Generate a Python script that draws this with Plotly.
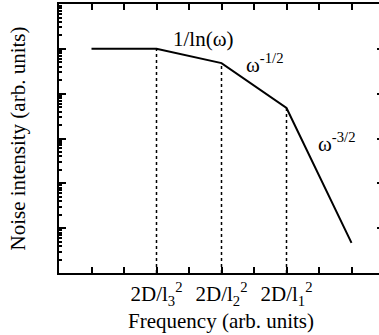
import plotly.graph_objects as go

# data
freq = [1, 2, 3, 4, 5]
intensity = [1.0e5, 1.0e5, 4.8e4, 4.8e3, 4.7]
crossover_idx = [1, 2, 3]
tick_vals = [1, 2, 3, 4, 5]
tick_text = ["", "2D/l<sub>3</sub><sup>2</sup>", "2D/l<sub>2</sub><sup>2</sup>",
             "2D/l<sub>1</sub><sup>2</sup>", ""]
labels = ["1/ln(ω)", "ω<sup>-1/2</sup>", "ω<sup>-3/2</sup>"]
label_x = [2.71, 3.67, 4.78]
label_y = [5.22, 4.67, 2.92]
x_title = "Frequency (arb. units)"
y_title = "Noise intensity (arb. units)"

FONT = "Liberation Serif"

fig = go.Figure()

# dotted drop lines
dx, dy = [], []
for i in crossover_idx:
    dx += [freq[i], freq[i], None]
    dy += [1, intensity[i], None]
fig.add_trace(go.Scatter(x=dx, y=dy, mode="lines",
                         line=dict(color="black", width=1.5, dash="dot"),
                         hoverinfo="skip", showlegend=False))

fig.add_trace(go.Scatter(x=freq, y=intensity, mode="lines",
                         line=dict(color="black", width=2),
                         showlegend=False))

# invisible trace for right axis ticks
fig.add_trace(go.Scatter(x=[freq[0]], y=[intensity[0]], yaxis="y2",
                         mode="markers", marker=dict(opacity=0),
                         hoverinfo="skip", showlegend=False))

for t, x, y in zip(labels, label_x, label_y):
    fig.add_annotation(x=x, y=y, text=t, showarrow=False,
                       font=dict(family=FONT, size=21, color="black"))

# x-axis title as annotation (placed closer to tick labels)
fig.add_annotation(x=0.505, xref="paper",
                   y=-0.178, yref="paper", text=x_title, showarrow=False,
                   xanchor="center", yanchor="middle",
                   font=dict(family=FONT, size=21, color="black"))

xr = [0.5, 0.5 + (379 - 59) / 65]

fig.update_layout(
    width=379, height=335,
    margin=dict(l=59, r=0, t=4, b=62),
    paper_bgcolor="white", plot_bgcolor="white",
    font=dict(family=FONT, size=21, color="black"),
    xaxis=dict(
        range=xr, showgrid=False, zeroline=False,
        showline=True, linecolor="black", linewidth=2, mirror="allticks",
        ticks="inside", ticklen=6, tickwidth=2, tickcolor="black",
        tickmode="array", tickvals=tick_vals, ticktext=tick_text,
        tickfont=dict(family=FONT, size=21),
        ticklabelstandoff=1,
        minor=dict(tickmode="linear", tick0=0.5, dtick=1, ticks="inside",
                   ticklen=3, tickwidth=2, tickcolor="black", showgrid=False),
    ),
    yaxis=dict(
        type="log", range=[0, 6], showgrid=False, zeroline=False,
        showline=True, linecolor="black", linewidth=2, mirror=False,
        ticks="inside", ticklen=7, tickwidth=2, tickcolor="black",
        dtick=1, showticklabels=False,
        minor=dict(ticks="inside", ticklen=3, tickwidth=1.5,
                   tickcolor="black", showgrid=False),
        title=dict(text=y_title, standoff=26,
                   font=dict(family=FONT, size=21)),
    ),
    yaxis2=dict(
        type="log", range=[0, 6], overlaying="y", side="right",
        showgrid=False, zeroline=False, showline=False,
        ticks="inside", ticklen=2, tickwidth=2, tickcolor="black",
        dtick=1, showticklabels=False,
    ),
)

fig.write_html("out.html")
